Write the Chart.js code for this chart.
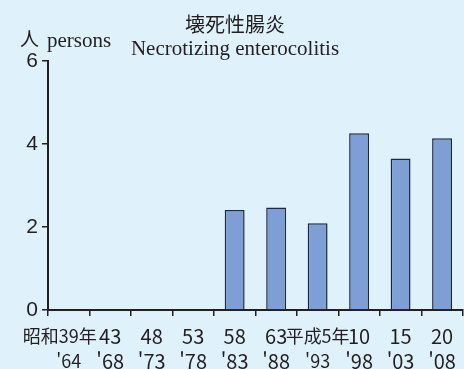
<!DOCTYPE html>
<html lang="ja">
<head>
<meta charset="UTF-8">
<title>壊死性腸炎</title>
<script src="https://cdn.jsdelivr.net/npm/chart.js"></script>
<style>
    html, body { margin: 0; padding: 0; background: #dff2fc; }
    canvas { display: block; }
</style>
</head>
<body>
<canvas id="chart" width="464" height="369"></canvas>
<script>
    // 年次ラベル（和暦 / 西暦）
    const eraLabels = ['昭和39年', '43', '48', '53', '58', '63', '平成5年', '10', '15', '20'];
    const yearLabels = ["'64", "'68", "'73", "'78", "'83", "'88", "'93", "'98", "'03", "'08"];
    // 患者数（人）
    const cases = [0, 0, 0, 0, 2.41, 2.47, 2.09, 4.26, 3.65, 4.14];
    const yTicks = [0, 2, 4, 6];

    const titleJa = '壊死性腸炎';
    const titleEn = 'Necrotizing enterocolitis';
    const unitJa = '人';
    const unitEn = 'persons';

    const ink = '#231f20';
    const isKanji = (i) => /年/.test(eraLabels[i]);

    const headerPlugin = {
        id: 'header',
        afterDraw(chart) {
            const ctx = chart.ctx;
            ctx.save();
            ctx.fillStyle = ink;
            ctx.textAlign = 'center';
            ctx.textBaseline = 'middle';
            ctx.font = '20px "Noto Sans CJK JP"';
            ctx.fillText(titleJa, 235, 24);
            ctx.textBaseline = 'alphabetic';
            ctx.font = '21px "Liberation Serif"';
            ctx.fillText(titleEn, 235, 55);

            ctx.textAlign = 'left';
            ctx.textBaseline = 'middle';
            ctx.font = '19px "Noto Sans CJK JP"';
            ctx.fillText(unitJa, 20, 39);
            ctx.textBaseline = 'alphabetic';
            ctx.font = '21px "Liberation Serif"';
            ctx.fillText(unitEn, 47, 47);
            ctx.restore();
        }
    };

    new Chart(document.getElementById('chart'), {
        type: 'bar',
        data: {
            // 先頭ラベルは原図どおり少し左寄せ
            labels: eraLabels.map((e, i) => [i === 0 ? e + '\u2003' : e, yearLabels[i]]),
            datasets: [{
                data: cases,
                backgroundColor: '#7d9fd5',
                borderColor: '#1c2740',
                borderWidth: 1.5,
                barPercentage: 0.48,
                categoryPercentage: 1
            }]
        },
        options: {
            responsive: false,
            animation: false,
            devicePixelRatio: 1,
            layout: { padding: { top: 61, right: 1, left: 0, bottom: 0 } },
            plugins: {
                legend: { display: false },
                tooltip: { enabled: false }
            },
            scales: {
                x: {
                    grid: {
                        offset: true,
                        drawOnChartArea: false,
                        drawTicks: true,
                        tickLength: 6,
                        tickColor: ink,
                        lineWidth: 1.5
                    },
                    border: { color: ink, width: 2 },
                    ticks: {
                        autoSkip: false,
                        maxRotation: 0,
                        minRotation: 0,
                        padding: 8,
                        color: ink,
                        font: (c) => ({
                            family: '"Liberation Sans Narrow", "Noto Sans CJK JP", sans-serif',
                            size: isKanji(c.index) ? 18 : 20,
                            lineHeight: isKanji(c.index) ? 1.39 : 1.25
                        })
                    },
                    afterFit(scale) { scale.height = 59; }
                },
                y: {
                    min: 0,
                    max: 6,
                    afterBuildTicks(scale) { scale.ticks = yTicks.map(v => ({ value: v })); },
                    grid: {
                        drawOnChartArea: false,
                        drawTicks: true,
                        tickLength: 6,
                        tickColor: ink,
                        lineWidth: 1.5
                    },
                    border: { color: ink, width: 2 },
                    ticks: {
                        padding: 4,
                        color: ink,
                        font: { family: '"Liberation Sans", sans-serif', size: 21 }
                    },
                    afterFit(scale) { scale.width = 48; }
                }
            }
        },
        plugins: [headerPlugin]
    });
</script>
</body>
</html>
